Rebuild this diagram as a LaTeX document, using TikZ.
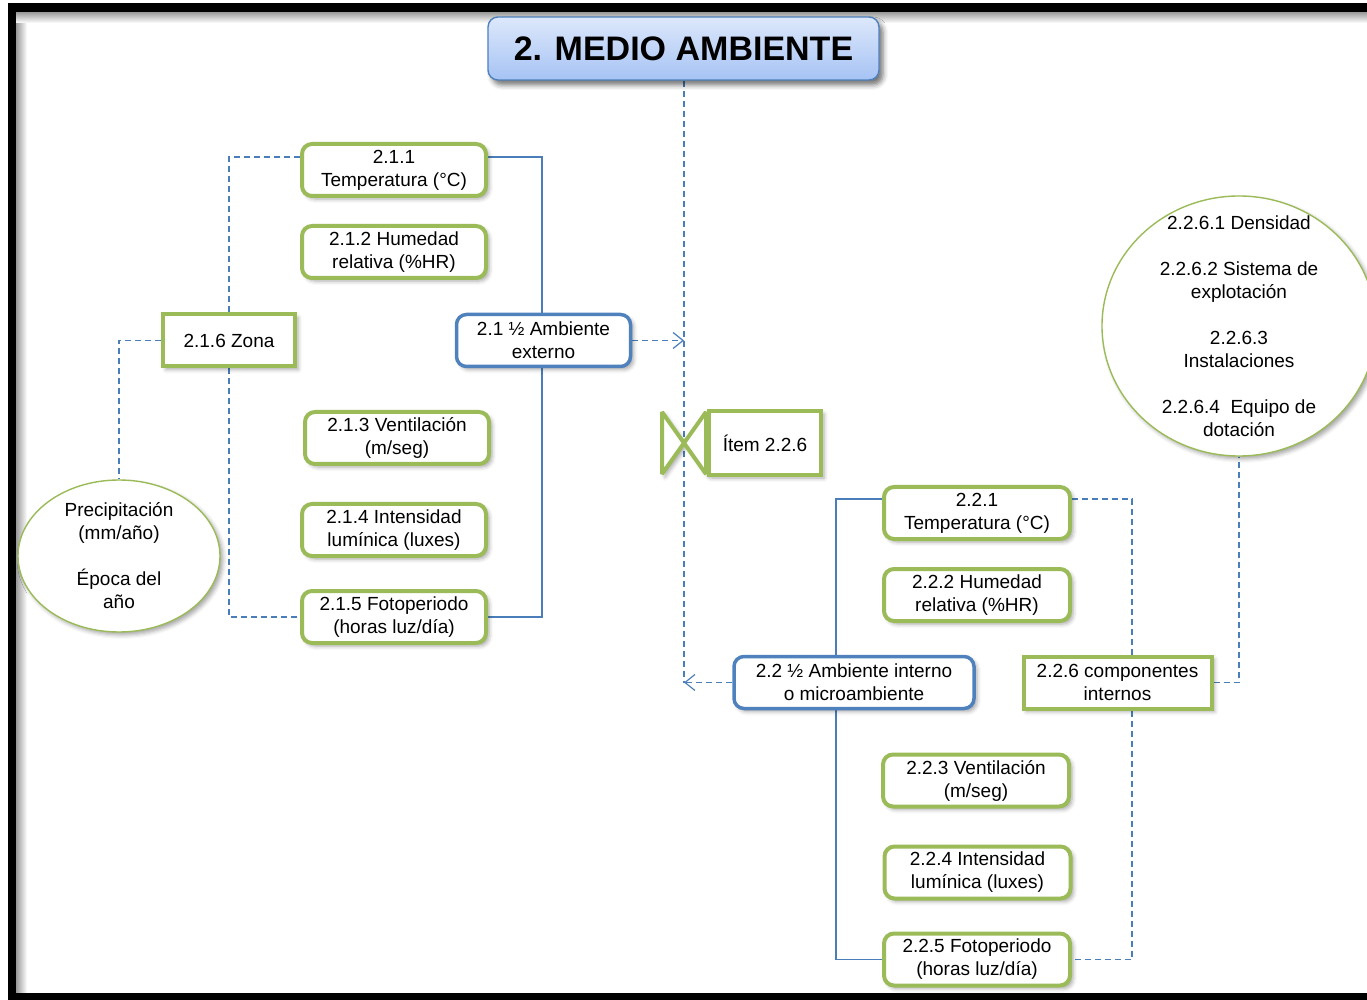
\documentclass[tikz,border=0pt]{standalone}
\usepackage{fontspec}
\setmainfont{Liberation Sans}
\usetikzlibrary{shapes.geometric,arrows.meta,backgrounds,shadows.blur}

\definecolor{leaf}{HTML}{9BBB59}
\definecolor{steel}{HTML}{4F81BD}
\definecolor{linkblue}{HTML}{4A7EBB}
\definecolor{skytop}{HTML}{DDE8FB}
\definecolor{skybottom}{HTML}{A6C3F4}

\tikzset{
  soft/.style={blur shadow={shadow xshift=1.5pt, shadow yshift=-1.5pt,
      shadow blur radius=2pt, shadow opacity=35}},
  boxtext/.style={align=center, font=\fontsize{9.5}{11.5}\selectfont,
      text=black, inner sep=1pt},
  greenbox/.style={boxtext, draw=leaf, line width=2pt, rounded corners=5pt,
      fill=white, minimum width=92pt, minimum height=26pt, soft},
  greenrect/.style={boxtext, draw=leaf, line width=2pt, fill=white,
      minimum height=26pt, soft},
  bluebox/.style={boxtext, draw=steel, line width=1.75pt, rounded corners=5pt,
      fill=white, minimum height=26pt, soft},
  softoval/.style={ellipse, draw=leaf, line width=0.7pt, fill=white,
      inner sep=0pt, soft},
  titlebox/.style={draw=steel, line width=0.7pt, rounded corners=5pt,
      top color=skytop, bottom color=skybottom,
      minimum width=195.5pt, minimum height=31.5pt,
      font=\fontsize{17}{20}\selectfont\bfseries,
      blur shadow={shadow xshift=2pt, shadow yshift=-2.5pt,
      shadow blur radius=2.5pt, shadow opacity=55}},
  solidlink/.style={draw=linkblue, line width=0.6pt},
  dashlink/.style={draw=linkblue, line width=0.6pt, dash pattern=on 3pt off 2pt},
  opentip/.style={-{Straight Barb[length=5pt,width=8pt]}}
}

\begin{document}
\begin{tikzpicture}[x=0.5pt,y=-0.5pt]
\useasboundingbox (0,0) rectangle (1367,1000);

% page frame with its inner shading
\shade[left color=black!40, right color=white] (16,12) rectangle (27,993);
\shade[top color=black!40, bottom color=white] (16,12) rectangle (1367,23);
\fill[black] (8,3) rectangle (16,1000);
\fill[black] (8,3) rectangle (1367,12);
\fill[black] (8,993) rectangle (1367,1000);

% heading
\node[titlebox] (title) at (683.5,48.5) {2. MEDIO AMBIENTE};

% external environment
\node[greenbox] (t211) at (394,170) {2.1.1\\Temperatura (°C)};
\node[greenbox] (t212) at (394,252) {2.1.2 Humedad\\relativa (\%HR)};
\node[greenbox] (t213) at (397,438) {2.1.3 Ventilación\\(m/seg)};
\node[greenbox] (t214) at (394,530) {2.1.4 Intensidad\\lumínica (luxes)};
\node[greenbox] (t215) at (394,617) {2.1.5 Fotoperiodo\\(horas luz/día)};
\node[greenrect, minimum width=66pt] (zona) at (229,340.5) {2.1.6 Zona};
\node[bluebox, minimum width=87pt] (ext) at (543.5,340.5) {2.1 ½ Ambiente\\externo};
\node[softoval, minimum width=101pt, minimum height=76pt] (precip) at (119,556) {};
\node[boxtext] (preciptext) at (precip.center)
  {Precipitación\\(mm/año)\\[11.5pt]Época del\\año};

% item marker
\filldraw[draw=leaf, fill=white, line width=2pt, line join=miter, miter limit=1.5, soft]
  (662,412) -- (706,474) -- (706,412) -- (662,474) -- cycle;
\node[greenrect, minimum width=56pt, minimum height=32pt] (item) at (765,443) {Ítem 2.2.6};

% internal environment
\node[greenbox, minimum width=93pt] (t221) at (977,513) {2.2.1\\Temperatura (°C)};
\node[greenbox, minimum width=93pt] (t222) at (977,595) {2.2.2 Humedad\\relativa (\%HR)};
\node[greenbox, minimum width=93pt] (t223) at (976,780.5) {2.2.3 Ventilación\\(m/seg)};
\node[greenbox, minimum width=93pt] (t224) at (977.5,872.5) {2.2.4 Intensidad\\lumínica (luxes)};
\node[greenbox, minimum width=93pt] (t225) at (977,959.5) {2.2.5 Fotoperiodo\\(horas luz/día)};
\node[bluebox, minimum width=120pt] (int) at (854,682.5) {2.2 ½ Ambiente interno\\o microambiente};
\node[greenrect, minimum width=94pt] (comp) at (1117.5,682.5) {2.2.6 componentes\\internos};
\node[softoval, minimum width=137pt, minimum height=130pt] (ring) at (1239,326) {};
\node[boxtext] (ringtext) at (ring.center)
  {2.2.6.1 Densidad\\[11.5pt]2.2.6.2 Sistema de\\explotación\\[11.5pt]2.2.6.3\\Instalaciones\\[11.5pt]2.2.6.4\ \ Equipo de\\dotación};

% connectors
\coordinate (trunkA) at (684,340.5);
\coordinate (trunkB) at (684,682.5);
\begin{scope}[on background layer]
  \draw[dashlink] (title.south -| trunkA) -- (trunkB);
  \draw[dashlink, opentip] (ext.east) -- (trunkA);
  \draw[dashlink, opentip] (int.west) -- (trunkB);

  \draw[solidlink] ([yshift=6.5pt]t211.east) -| ([xshift=-0.75pt]ext.north);
  \draw[solidlink] ([xshift=-0.75pt]ext.south) |- (t215.east);
  \draw[dashlink] ([yshift=6.5pt]t211.west) -| (zona.north);
  \draw[dashlink] (zona.south) |- (t215.west);
  \draw[dashlink] (zona.west) -| (precip.north);

  \draw[solidlink] ([yshift=7pt]t221.west) -| ([xshift=-9pt]int.north);
  \draw[solidlink] ([xshift=-9pt]int.south) |- (t225.west);
  \draw[dashlink] ([yshift=7pt]t221.east) -| ([xshift=7.25pt]comp.north);
  \draw[dashlink] ([xshift=7.25pt]comp.south) |- (t225.east);
  \draw[dashlink] (comp.east) -| (ring.south);
\end{scope}
\end{tikzpicture}
\end{document}
